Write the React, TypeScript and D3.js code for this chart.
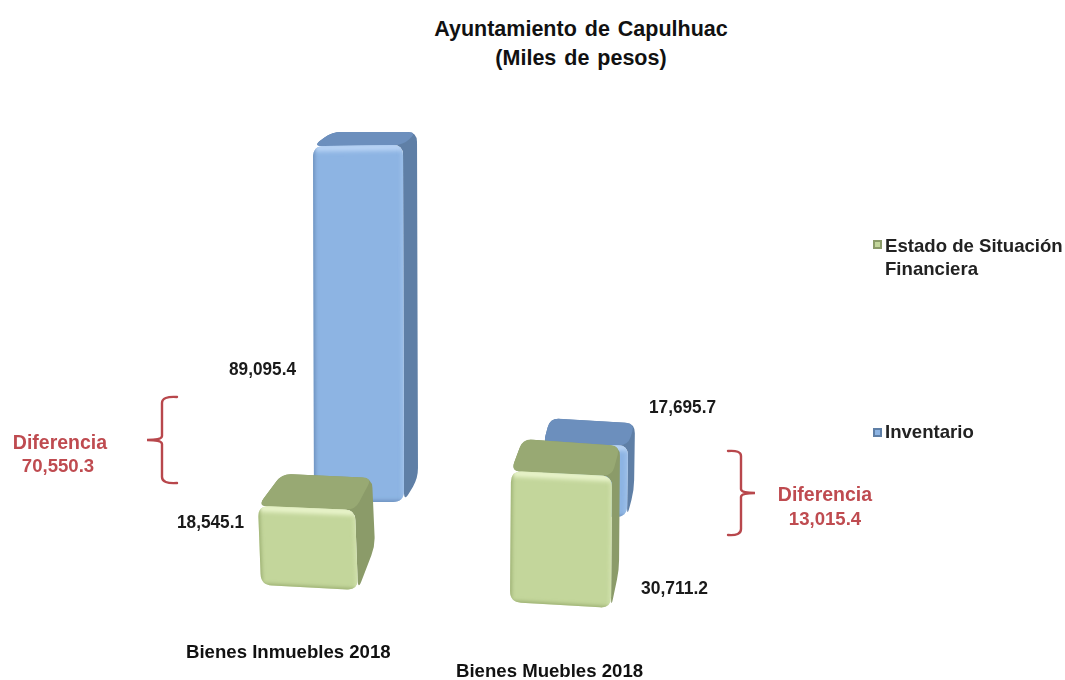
import React from "react";
import * as d3 from "d3";

const categories = ["Bienes Inmuebles 2018", "Bienes Muebles 2018"];
const seriesNames = ["Estado de Situación Financiera", "Inventario"];
const estadoValues = [18545.1, 30711.2];
const inventarioValues = [89095.4, 17695.7];
const estadoLabels = ["18,545.1", "30,711.2"];
const inventarioLabels = ["89,095.4", "17,695.7"];
const diffLabels = ["70,550.3", "13,015.4"];

const W = 1065, H = 680;

// two depth planes of the 3-D plot: the nearer one is drawn slightly larger
const yInventario = d3.scaleLinear().domain([0, 89095.4]).range([0, 356]);
const yEstado = d3.scaleLinear().domain([0, 30711.2]).range([0, 131]);

type Geo = { x0: number; x1: number; y0: number; y1: number; lean: number; dl: [number, number]; dr: [number, number]; sideBottom: number };

const geoInventario: Geo[] = [
  { x0: 314, x1: 404, y0: 502, y1: 502, lean: -1, dl: [19, -14], dr: [14, -13], sideBottom: 478 },
  { x0: 542, x1: 627, y0: 516, y1: 517, lean: 1, dl: [7, -27], dr: [7, -22], sideBottom: 490 },
];
const geoEstado: Geo[] = [
  { x0: 261, x1: 358, y0: 585, y1: 590, lean: -3, dl: [24, -32], dr: [17, -32], sideBottom: 546 },
  { x0: 510, x1: 611, y0: 602, y1: 608, lean: 1, dl: [12, -32], dr: [8, -30], sideBottom: 570 },
];

const palette = {
  inv: { front: "#8db4e3", light: "#b9d4f5", dark: "#5f82ad", top: "#6c8fbd", side: "#5f7fa6" },
  est: { front: "#c3d69b", light: "#e9f4cb", dark: "#8fa365", top: "#98a973", side: "#8b9b69" },
};

type P = [number, number];
function rounded(pts: P[], r: number) {
  const n = pts.length;
  let d = "";
  pts.forEach((p, i) => {
    const a = pts[(i - 1 + n) % n], b = pts[(i + 1) % n];
    const to = (q: P) => {
      const len = Math.hypot(q[0] - p[0], q[1] - p[1]);
      const k = Math.min(r, len / 2) / len;
      return [p[0] + (q[0] - p[0]) * k, p[1] + (q[1] - p[1]) * k];
    };
    const s = to(a), e = to(b);
    d += `${i ? "L" : "M"}${s[0]},${s[1]}Q${p[0]},${p[1]} ${e[0]},${e[1]}`;
  });
  return d + "Z";
}

function Bar({ id, g, h, c }: { id: string; g: Geo; h: number; c: typeof palette.inv }) {
  const bl: P = [g.x0, g.y0], br: P = [g.x1, g.y1];
  const tl: P = [g.x0 + g.lean, g.y0 - h], tr: P = [g.x1 + g.lean, g.y1 - h - 1];
  const btl: P = [tl[0] + g.dl[0], tl[1] + g.dl[1]], btr: P = [tr[0] + g.dr[0], tr[1] + g.dr[1]];
  const sb: P = [br[0] + g.dr[0], g.sideBottom];
  const front = rounded([tl, tr, br, bl], 11);
  return (
    <g>
      <path d={rounded([btl, btr, sb, br, tr, tl], 10)} fill={c.side} />
      <path d={rounded([btl, btr, tr, tl], 9)} fill={c.top} />
      <clipPath id={`clip-${id}`}><path d={front} /></clipPath>
      <path d={front} fill={c.front} />
      <g clipPath={`url(#clip-${id})`} fill="none">
        <path d={`M${tl[0]},${tl[1] + 2}L${tr[0]},${tr[1] + 2}`} stroke={c.light} strokeWidth={7} filter="url(#soft)" />
        <path d={`M${tl[0] - 1},${tl[1]}L${bl[0] - 1},${bl[1]}`} stroke={c.dark} strokeWidth={4} filter="url(#soft)" />
        <path d={`M${bl[0]},${bl[1] + 1}L${br[0]},${br[1] + 1}`} stroke={c.dark} strokeWidth={4} filter="url(#soft)" />
        <path d={`M${tr[0]},${tr[1]}L${br[0]},${br[1]}`} stroke={c.light} strokeWidth={3} filter="url(#soft)" opacity={0.6} />
      </g>
    </g>
  );
}

const sans = "'Liberation Sans', Arial, sans-serif";
const red = "#bf4b50";

function Brace({ d }: { d: string }) {
  return <path d={d} fill="none" stroke="#b8474c" strokeWidth={2.4} strokeLinecap="round" />;
}

export default function App() {
  const valueStyle = { fontFamily: sans, fontWeight: 700, fontSize: 19, fill: "#1a1a1a" } as const;
  const titleStyle = { fontFamily: sans, fontWeight: 700, fontSize: 21.5, fill: "#111", wordSpacing: 2 } as const;
  const catStyle = { fontFamily: sans, fontWeight: 700, fontSize: 18.6, fill: "#111" } as const;
  const legStyle = { fontFamily: sans, fontWeight: 700, fontSize: 18.6, fill: "#222" } as const;
  const diffStyle = { fontFamily: sans, fontWeight: 700, fontSize: 19.5, fill: red, textAnchor: "middle" } as const;
  const diffNumStyle = { ...diffStyle, fontSize: 18.6 } as const;
  const legendWords = seriesNames[0].split(" ");
  const vProps = { textLength: 67, lengthAdjust: "spacingAndGlyphs" as const, style: valueStyle };
  return (
    <svg width={W} height={H} viewBox={`0 0 ${W} ${H}`} style={{ position: "absolute", left: 0, top: 0, display: "block", background: "#fff" }}>
      <defs>
        <filter id="soft" filterUnits="userSpaceOnUse" x={0} y={0} width={W} height={H}><feGaussianBlur stdDeviation="2" /></filter>
        <filter id="edge" filterUnits="userSpaceOnUse" x={0} y={0} width={W} height={H}><feGaussianBlur stdDeviation="0.7" /></filter>
      </defs>

      <text x={581} y={36} textAnchor="middle" style={titleStyle}>Ayuntamiento de Capulhuac</text>
      <text x={581} y={65} textAnchor="middle" style={titleStyle}>(Miles de pesos)</text>

      <g filter="url(#edge)">
        {[0, 1].map((i) => (
          <g key={i}>
            <Bar id={`inv${i}`} g={geoInventario[i]} h={yInventario(inventarioValues[i])} c={palette.inv} />
            <Bar id={`est${i}`} g={geoEstado[i]} h={yEstado(estadoValues[i])} c={palette.est} />
          </g>
        ))}
      </g>

      <text x={229} y={375} {...vProps}>{inventarioLabels[0]}</text>
      <text x={177} y={528} {...vProps}>{estadoLabels[0]}</text>
      <text x={649} y={413} {...vProps}>{inventarioLabels[1]}</text>
      <text x={641} y={594} {...vProps}>{estadoLabels[1]}</text>

      <text x={186} y={658} style={catStyle}>{categories[0]}</text>
      <text x={456} y={677} style={catStyle}>{categories[1]}</text>

      <Brace d="M177,397 Q162,396 162,403 L162,436 Q162,440 147,440 Q162,440 162,444 L162,477 Q162,484 177,483" />
      <Brace d="M728,451 Q741,450 741,456 L741,489 Q741,493 755,493 Q741,493 741,497 L741,529 Q741,536 728,535" />

      <text x={60} y={449} style={diffStyle}>Diferencia</text>
      <text x={58} y={472} style={diffNumStyle}>{diffLabels[0]}</text>
      <text x={825} y={501} style={diffStyle}>Diferencia</text>
      <text x={825} y={525} style={diffNumStyle}>{diffLabels[1]}</text>

      <rect x={873} y={240} width={9} height={9} fill={palette.est.side} />
      <rect x={875} y={242} width={5} height={5} fill={palette.est.front} />
      <text x={885} y={252} style={legStyle}>{legendWords.slice(0, 3).join(" ")}</text>
      <text x={885} y={275} style={legStyle}>{legendWords[3]}</text>
      <rect x={873} y={428} width={9} height={9} fill={palette.inv.side} />
      <rect x={875} y={430} width={5} height={5} fill={palette.inv.front} />
      <text x={885} y={438} style={legStyle}>{seriesNames[1]}</text>
    </svg>
  );
}
